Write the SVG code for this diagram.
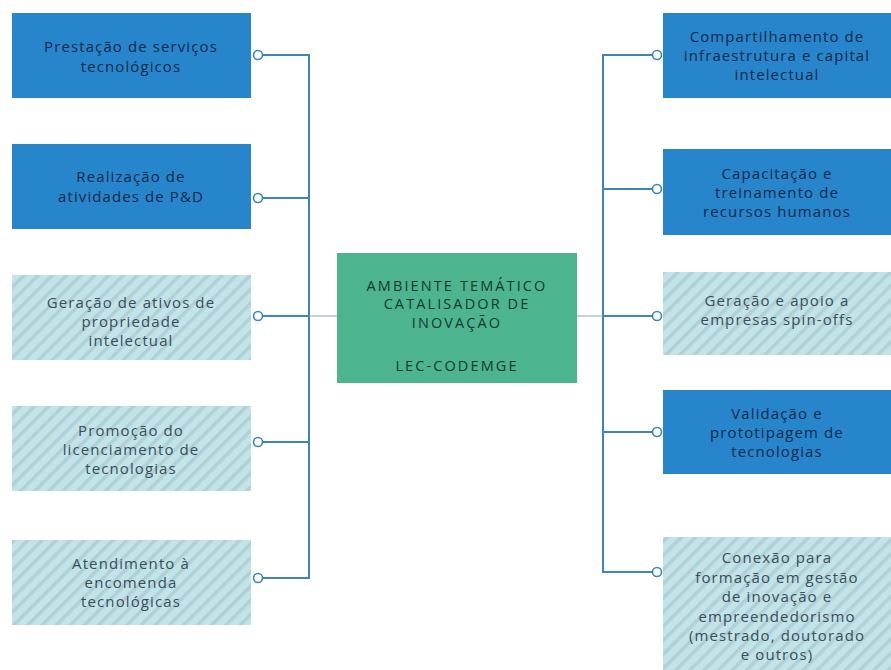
<svg xmlns="http://www.w3.org/2000/svg" width="891" height="670" viewBox="0 0 891 670">
<defs>
<pattern id="hatch" patternUnits="userSpaceOnUse" width="10" height="10" patternTransform="rotate(45)">
<rect width="10" height="10" fill="#c2e4e9"/>
<rect width="3.5" height="10" fill="#aed0d6"/>
</pattern>
</defs>
<style>
.blue{fill:#2786cb}
.hat{fill:url(#hatch)}
.ctr{fill:#4cb48f}
.t{font-family:"Open Sans","Liberation Sans",sans-serif;font-size:15px;letter-spacing:1.1px;text-anchor:middle}
.tb{fill:#15294a}
.th{fill:#3c4d58}
.tc{fill:#173a2c;font-size:14.5px;letter-spacing:2.1px}
.ln{fill:none;stroke:#3d86b6;stroke-width:2}
.thin{fill:none;stroke:#8aa5b3;stroke-width:1}
.dot{fill:#ffffff;stroke:#3d86b6;stroke-width:1.6}
</style>
<rect width="891" height="670" fill="#ffffff"/>
<g id="connectors">
<path class="ln" d="M262 55H309V578H262M262 198H309M262 316H309M262 442H309"/>
<path class="thin" d="M309 316H337"/>
<path class="ln" d="M653 55H603V572H653M603 189H653M603 316H653M603 432H653"/>
<path class="thin" d="M577 316H603"/>
<circle class="dot" cx="258" cy="55" r="4.5"/>
<circle class="dot" cx="258" cy="198" r="4.5"/>
<circle class="dot" cx="258" cy="316" r="4.5"/>
<circle class="dot" cx="258" cy="442" r="4.5"/>
<circle class="dot" cx="258" cy="578" r="4.5"/>
<circle class="dot" cx="657" cy="55" r="4.5"/>
<circle class="dot" cx="657" cy="189" r="4.5"/>
<circle class="dot" cx="657" cy="316" r="4.5"/>
<circle class="dot" cx="657" cy="432" r="4.5"/>
<circle class="dot" cx="657" cy="572" r="4.5"/>
</g>
<g id="center">
<rect class="ctr" x="337" y="253" width="240" height="130"/>
<text class="t tc" x="457" y="291">AMBIENTE TEMÁTICO</text>
<text class="t tc" x="457" y="309">CATALISADOR DE</text>
<text class="t tc" x="457" y="328">INOVAÇÃO</text>
<text class="t tc" x="457" y="371">LEC-CODEMGE</text>
</g>
<g id="l1">
<rect class="blue" x="12" y="13" width="239" height="85"/>
<text class="t tb" x="131" y="52">Prestação de serviços</text>
<text class="t tb" x="131" y="72">tecnológicos</text>
</g>
<g id="l2">
<rect class="blue" x="12" y="144" width="239" height="85"/>
<text class="t tb" x="131" y="182">Realização de</text>
<text class="t tb" x="131" y="202">atividades de P&amp;D</text>
</g>
<g id="l3">
<rect class="hat" x="12" y="275" width="239" height="85"/>
<text class="t th" x="131" y="308">Geração de ativos de</text>
<text class="t th" x="131" y="327">propriedade</text>
<text class="t th" x="131" y="346">intelectual</text>
</g>
<g id="l4">
<rect class="hat" x="12" y="406" width="239" height="85"/>
<text class="t th" x="131" y="436">Promoção do</text>
<text class="t th" x="131" y="455">licenciamento de</text>
<text class="t th" x="131" y="474">tecnologias</text>
</g>
<g id="l5">
<rect class="hat" x="12" y="540" width="239" height="85"/>
<text class="t th" x="131" y="569">Atendimento à</text>
<text class="t th" x="131" y="588">encomenda</text>
<text class="t th" x="131" y="607">tecnológicas</text>
</g>
<g id="r1">
<rect class="blue" x="663" y="13" width="228" height="85"/>
<text class="t tb" x="777" y="42">Compartilhamento de</text>
<text class="t tb" x="777" y="61">infraestrutura e capital</text>
<text class="t tb" x="777" y="80">intelectual</text>
</g>
<g id="r2">
<rect class="blue" x="663" y="149" width="228" height="86"/>
<text class="t tb" x="777" y="179">Capacitação e</text>
<text class="t tb" x="777" y="198">treinamento de</text>
<text class="t tb" x="777" y="217">recursos humanos</text>
</g>
<g id="r3">
<rect class="hat" x="663" y="272" width="228" height="83"/>
<text class="t th" x="777" y="306">Geração e apoio a</text>
<text class="t th" x="777" y="325">empresas spin-offs</text>
</g>
<g id="r4">
<rect class="blue" x="663" y="390" width="228" height="84"/>
<text class="t tb" x="777" y="419">Validação e</text>
<text class="t tb" x="777" y="438">prototipagem de</text>
<text class="t tb" x="777" y="457">tecnologias</text>
</g>
<g id="r5">
<rect class="hat" x="663" y="537" width="228" height="133"/>
<text class="t th" x="777" y="563">Conexão para</text>
<text class="t th" x="777" y="583">formação em gestão</text>
<text class="t th" x="777" y="602">de inovação e</text>
<text class="t th" x="777" y="622">empreendedorismo</text>
<text class="t th" x="777" y="641">(mestrado, doutorado</text>
<text class="t th" x="777" y="660">e outros)</text>
</g>
</svg>
